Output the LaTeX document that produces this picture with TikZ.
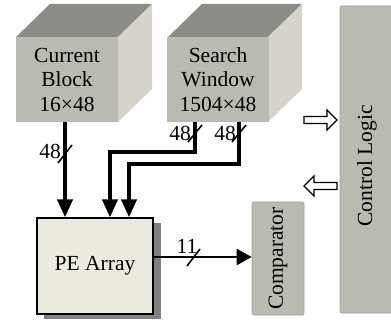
\documentclass[tikz,border=0pt]{standalone}
\usepackage{fontspec}
\setmainfont{Liberation Serif}
\usetikzlibrary{arrows.meta,calc}
\definecolor{facefront}{RGB}{186,186,176}
\definecolor{facetop}{RGB}{140,140,134}
\definecolor{faceside}{RGB}{214,212,202}
\definecolor{pefill}{RGB}{236,233,222}
\definecolor{shadowgray}{RGB}{128,128,128}
\tikzset{
  txt/.style={font=\fontsize{21.5}{24.5}\selectfont, align=center, inner sep=0pt},
  cubefront/.style={txt, fill=facefront, minimum width=102pt, minimum height=85pt},
  graybox/.style={txt, fill=facefront, draw=facefront!85!black, line width=0.6pt, rounded corners=2pt},
  bus/.style={line width=4pt, -{Triangle[length=18pt,width=15pt]}},
  wire/.style={line width=2pt, -{Triangle[length=15pt,width=16pt]}},
  slash/.style={line width=1.6pt},
  lbl/.style={font=\fontsize{21.5}{24.5}\selectfont, inner sep=0pt},
  hollow/.style={draw=black, line width=1.3pt, fill=white},
}
\begin{document}
\begin{tikzpicture}[x=1pt,y=-1pt]
\useasboundingbox (0,0) rectangle (391,323);

% storage cubes: top and side faces first, then the labelled front face
\foreach \l/\r in {16/118, 168/268}{
  \fill[facetop] (\l,37) -- ++(34,-33) -- (\r+34,4) -- (\r,37) -- cycle;
  \fill[faceside] (\r,37) -- (\r+34,4) -- (\r+34,89) -- (\r,122) -- cycle;
}
\node[cubefront] (cb) at (67,79.5) {Current\\Block\\16×48};
\node[cubefront] (sw) at (218,79.5) {Search\\Window\\1504×48};

% processing element array with drop shadow
\fill[shadowgray] (44,223) rectangle (161,319);
\node[txt, draw=black, line width=1.2pt, fill=pefill, minimum width=116pt, minimum height=96pt] (pe) at (95,266) {PE Array};

% comparator and control logic
\node[graybox, minimum width=52pt, minimum height=113pt] (cmp) at (278,258.5) {};
\node[lbl, rotate=90] at (cmp.center) {Comparator};
\node[graybox, minimum width=56pt, minimum height=307pt] (ctl) at (368,159.5) {};
\node[lbl, rotate=90] at (367,166) {Control Logic};

% data buses
\draw[bus] ([xshift=-2pt]cb.south) -- ([xshift=-2pt]cb.south |- pe.north);
\draw[bus] ([xshift=-23pt]sw.south) -- ++(0,30) -| ([xshift=15pt]pe.north);
\draw[bus] ([xshift=21pt]sw.south) -- ++(0,42) -| ([xshift=34pt]pe.north);
\draw[wire] (pe.east |- 0,257) -- (cmp.west |- 0,257);

% bus widths
\draw[slash] (58,163) -- (72,145);
\node[lbl] at (50,151) {48};
\draw[slash] (188,142) -- (202,125);
\node[lbl] at (180,133) {48};
\draw[slash] (232,142) -- (246,125);
\node[lbl] at (225,133) {48};
\draw[slash] (187,266) -- (200,249);
\node[lbl] at (187,246) {11};

% control handshake arrows
\draw[hollow] (304,116.5) -- (327,116.5) -- (327,110) -- (337,120) -- (327,130) -- (327,123.5) -- (304,123.5) -- cycle;
\draw[hollow] (337,182.5) -- (314,182.5) -- (314,176) -- (304,186) -- (314,196) -- (314,189.5) -- (337,189.5) -- cycle;
\end{tikzpicture}
\end{document}
